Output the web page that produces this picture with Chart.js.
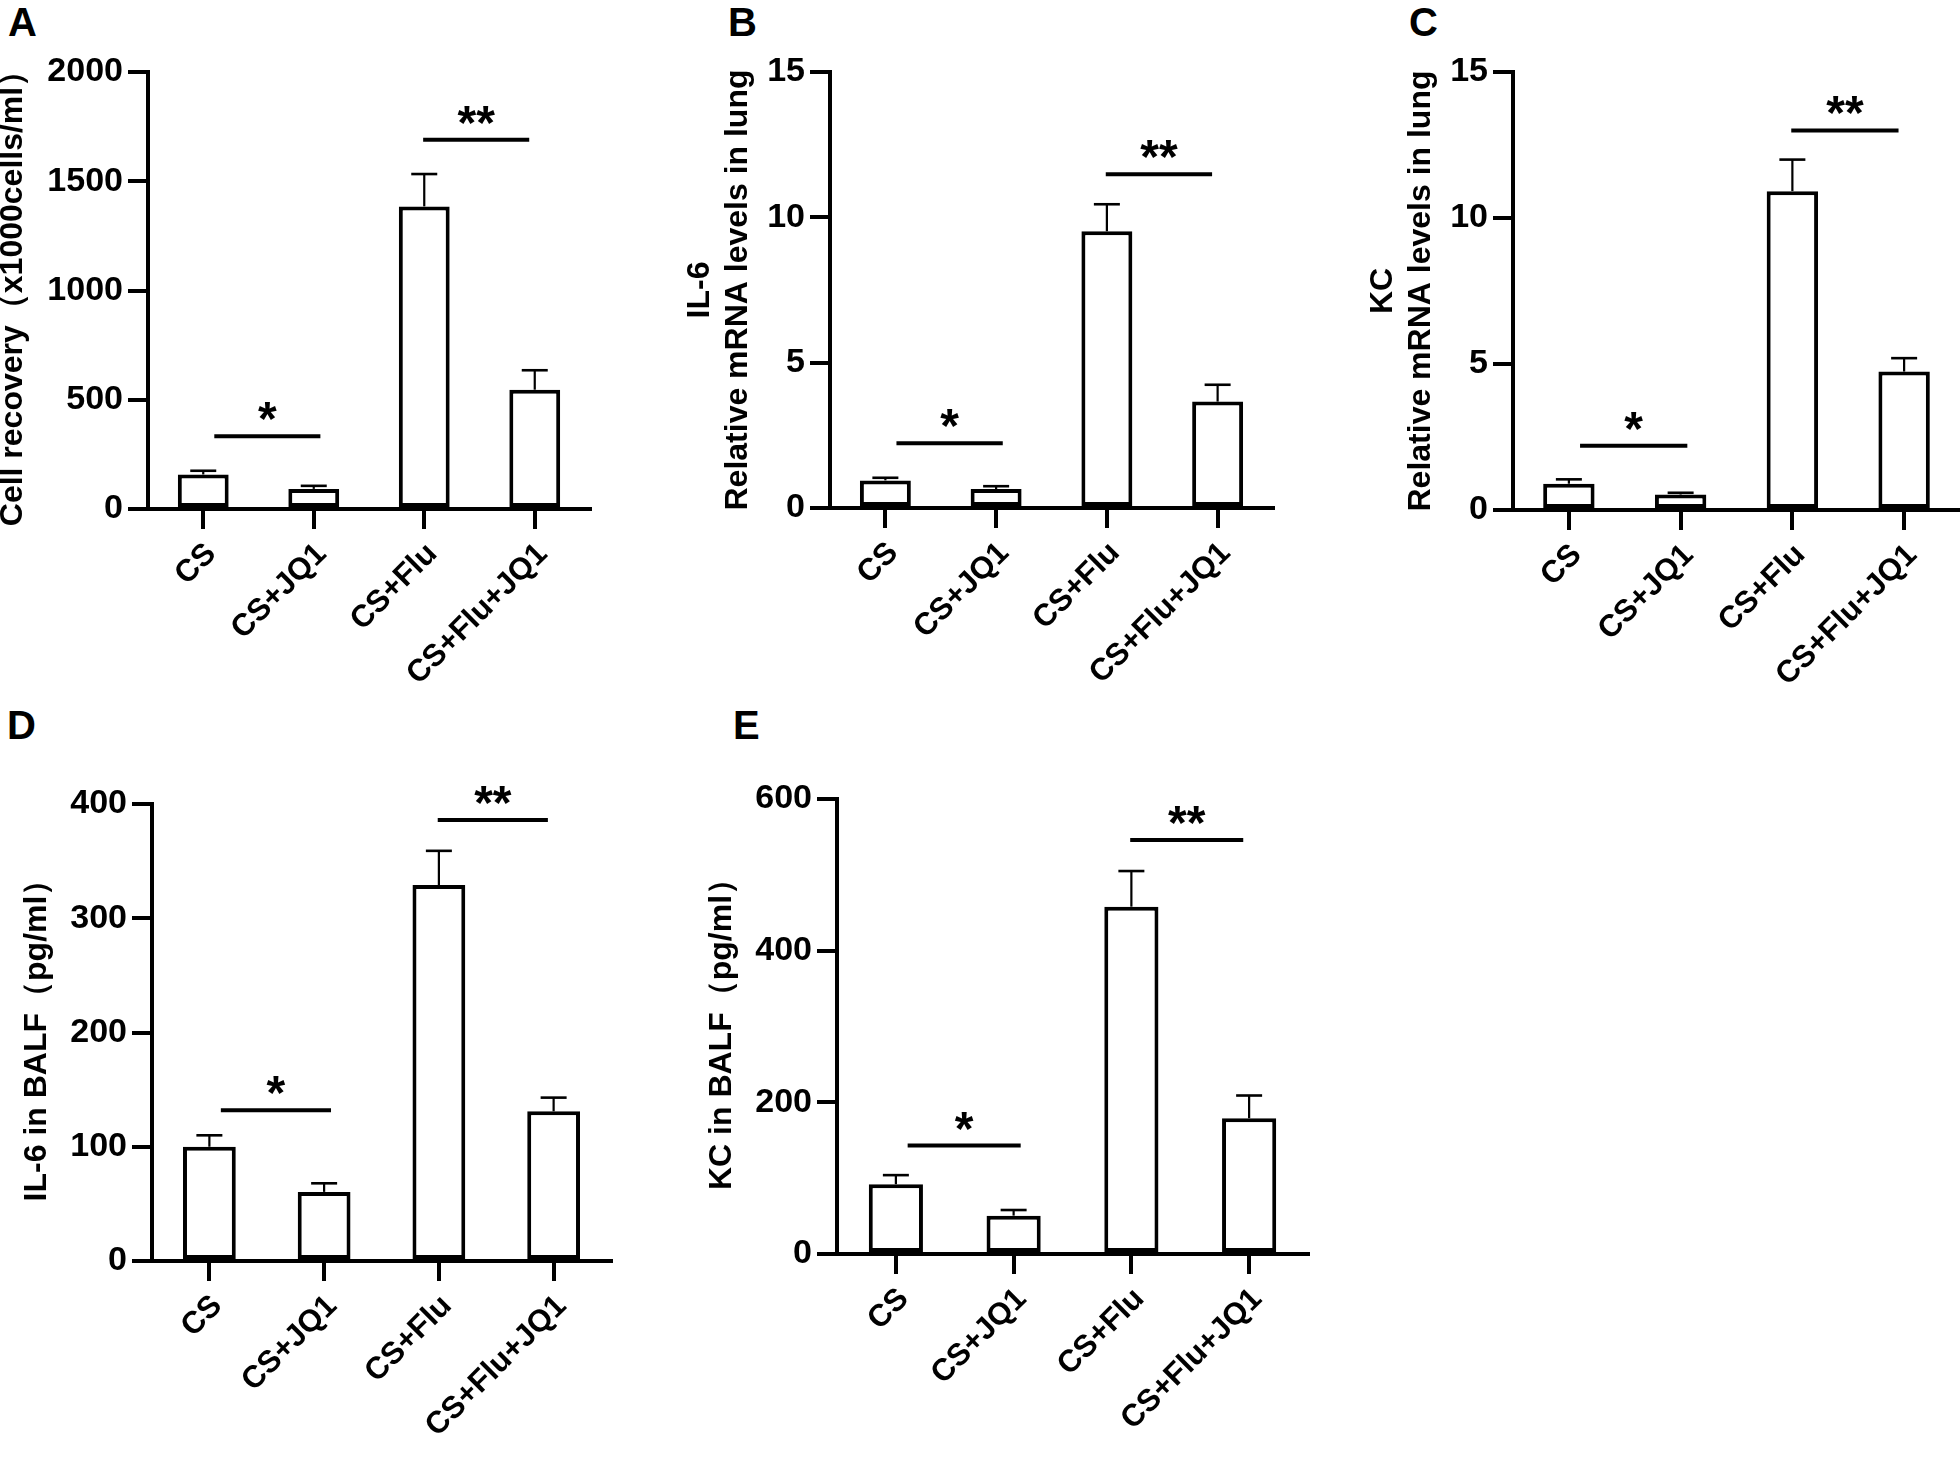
<!DOCTYPE html>
<html>
<head>
<meta charset="utf-8">
<script src="https://cdn.jsdelivr.net/npm/chart.js@4.4.1/dist/chart.umd.min.js"></script>
<style>
  body { margin: 0; background: #fff; width: 1960px; height: 1457px; overflow: hidden; position: relative; }
  canvas { position: absolute; }
  .tag { position: absolute; font-family: "Liberation Sans", Arial, sans-serif; font-weight: bold; font-size: 40px; line-height: 1; color: #000; }
</style>
</head>
<body>
<div class="tag" style="left:8px;top:2px">A</div>
<div class="tag" style="left:728px;top:2px">B</div>
<div class="tag" style="left:1409px;top:2px">C</div>
<div class="tag" style="left:7px;top:705px">D</div>
<div class="tag" style="left:733px;top:705px">E</div>

<canvas id="chartA"></canvas>
<canvas id="chartB"></canvas>
<canvas id="chartC"></canvas>
<canvas id="chartD"></canvas>
<canvas id="chartE"></canvas>

<script>
// groups on the x axis
const categories = ['CS', 'CS+JQ1', 'CS+Flu', 'CS+Flu+JQ1'];

// A - cell recovery
const cellMean = [158, 92, 1385, 546];
const cellErr = [17, 14, 148, 89];
const cellSig = [{ from: 0, to: 1, y: 333, label: '*' }, { from: 2, to: 3, y: 1690, label: '**' }];

// B - IL-6 mRNA
const il6MrnaMean = [0.95, 0.65, 9.52, 3.66];
const il6MrnaErr = [0.09, 0.1, 0.93, 0.58];
const il6MrnaSig = [{ from: 0, to: 1, y: 2.23, label: '*' }, { from: 2, to: 3, y: 11.48, label: '**' }];

// C - KC mRNA
const kcMrnaMean = [0.9, 0.53, 10.92, 4.74];
const kcMrnaErr = [0.15, 0.06, 1.08, 0.46];
const kcMrnaSig = [{ from: 0, to: 1, y: 2.2, label: '*' }, { from: 2, to: 3, y: 13.0, label: '**' }];

// D - IL-6 in BALF
const il6BalfMean = [100, 60.5, 329, 131];
const il6BalfErr = [10, 7.5, 30, 12];
const il6BalfSig = [{ from: 0, to: 1, y: 132, label: '*' }, { from: 2, to: 3, y: 386, label: '**' }];

// E - KC in BALF
const kcBalfMean = [92, 50.6, 458, 179];
const kcBalfErr = [12, 7.4, 47, 30];
const kcBalfSig = [{ from: 0, to: 1, y: 143, label: '*' }, { from: 2, to: 3, y: 546, label: '**' }];

const FONT = '"Liberation Sans", Arial, sans-serif';
const LINE = 4;

// error bars (upper only) + significance brackets
const extrasPlugin = {
    id: 'extras',
    afterDatasetsDraw(chart) {
        const o = chart.options.plugins.extras;
        const ctx = chart.ctx;
        const meta = chart.getDatasetMeta(0);
        const ys = chart.scales.y;
        const xs = chart.scales.x;
        ctx.save();
        ctx.strokeStyle = '#000';
        ctx.lineCap = 'butt';
        meta.data.forEach((bar, i) => {
            const top = ys.getPixelForValue(o.mean[i] + o.err[i]);
            ctx.lineWidth = 2.2;
            ctx.beginPath();
            ctx.moveTo(bar.x, bar.y);
            ctx.lineTo(bar.x, top);
            ctx.stroke();
            ctx.lineWidth = 2.6;
            ctx.beginPath();
            ctx.moveTo(bar.x - 13, top);
            ctx.lineTo(bar.x + 13, top);
            ctx.stroke();
        });
        const step = xs.getPixelForValue(1) - xs.getPixelForValue(0);
        o.sig.forEach(s => {
            const shift = s.label === '*' ? [0.1, 0.06] : [-0.01, -0.05];
            const x1 = xs.getPixelForValue(s.from) + shift[0] * step;
            const x2 = xs.getPixelForValue(s.to) + shift[1] * step;
            const y = ys.getPixelForValue(s.y);
            ctx.lineWidth = LINE;
            ctx.beginPath();
            ctx.moveTo(x1, y);
            ctx.lineTo(x2, y);
            ctx.stroke();
            ctx.fillStyle = '#000';
            ctx.font = 'bold 48px ' + FONT;
            ctx.textAlign = 'center';
            ctx.textBaseline = 'alphabetic';
            ctx.fillText(s.label, (x1 + x2) / 2, y - 1);
        });
        ctx.restore();
    }
};

// box = plot area on the page, yw = room left of the y axis
function makePanel(id, box, yw, title, mean, err, sig, max, step) {
    const padTop = 30, xh = 260;
    const canvas = document.getElementById(id);
    canvas.width = yw + (box.right - box.left) + box.padRight;
    canvas.height = padTop + (box.bottom - box.top) + xh;
    canvas.style.left = (box.left - yw) + 'px';
    canvas.style.top = (box.top - padTop) + 'px';

    return new Chart(canvas.getContext('2d'), {
        type: 'bar',
        data: {
            labels: categories,
            datasets: [{
                data: mean,
                backgroundColor: '#fff',
                borderColor: '#000',
                borderWidth: LINE,
                borderSkipped: false,
                barPercentage: 0.46,
                categoryPercentage: 1
            }]
        },
        options: {
            responsive: false,
            animation: false,
            layout: { padding: { top: padTop, right: box.padRight, left: 0, bottom: 0 } },
            plugins: {
                legend: { display: false },
                tooltip: { enabled: false },
                extras: { mean: mean, err: err, sig: sig }
            },
            scales: {
                x: {
                    afterFit: s => { s.height = xh; },
                    grid: { display: true, offset: false, drawOnChartArea: false, drawTicks: true, tickLength: 20, color: '#000', lineWidth: LINE },
                    border: { display: true, color: '#000', width: LINE },
                    ticks: {
                        color: '#000',
                        font: { family: FONT, size: 31, weight: 'bold' },
                        maxRotation: 45,
                        minRotation: 45,
                        autoSkip: false,
                        padding: 7,
                        labelOffset: 8
                    }
                },
                y: {
                    min: 0,
                    max: max,
                    afterFit: s => { s.width = yw; },
                    grid: { display: true, drawOnChartArea: false, drawTicks: true, tickLength: 20, color: '#000', lineWidth: LINE },
                    border: { display: true, color: '#000', width: LINE },
                    ticks: {
                        stepSize: step,
                        color: '#000',
                        font: { family: FONT, size: 34, weight: 'bold' },
                        padding: 5,
                        callback: v => String(v)
                    },
                    title: {
                        display: true,
                        text: title,
                        color: '#000',
                        font: { family: FONT, size: 32, weight: 'bold', lineHeight: 1.2 },
                        padding: { top: 2, bottom: 0 }
                    }
                }
            }
        },
        plugins: [extrasPlugin]
    });
}

makePanel('chartA', { left: 148, right: 590, top: 72, bottom: 509, padRight: 12 }, 156,
    'Cell recovery（x1000cells/ml）', cellMean, cellErr, cellSig, 2000, 500);
makePanel('chartB', { left: 830, right: 1273, top: 72, bottom: 508, padRight: 12 }, 151,
    ['IL-6', 'Relative mRNA levels in lung'], il6MrnaMean, il6MrnaErr, il6MrnaSig, 15, 5);
makePanel('chartC', { left: 1513, right: 1960, top: 72, bottom: 510, padRight: 0 }, 151,
    ['KC', 'Relative mRNA levels in lung'], kcMrnaMean, kcMrnaErr, kcMrnaSig, 15, 5);
makePanel('chartD', { left: 152, right: 611, top: 804, bottom: 1261, padRight: 12 }, 136,
    'IL-6 in BALF（pg/ml）', il6BalfMean, il6BalfErr, il6BalfSig, 400, 100);
makePanel('chartE', { left: 837, right: 1308, top: 799, bottom: 1254, padRight: 12 }, 136,
    'KC in BALF（pg/ml）', kcBalfMean, kcBalfErr, kcBalfSig, 600, 200);
</script>
</body>
</html>
